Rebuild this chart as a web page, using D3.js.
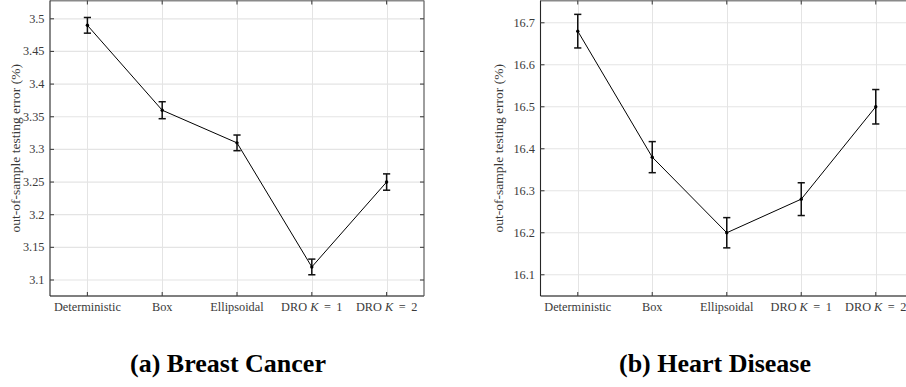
<!DOCTYPE html>
<html>
<head>
<meta charset="utf-8">
<script src="https://cdn.jsdelivr.net/npm/d3@7"></script>
<style>
  html, body { margin: 0; padding: 0; background: #fff; }
  svg { display: block; }
</style>
</head>
<body>
<svg id="chart" width="906" height="387"></svg>
<script>
// Methods compared on both datasets
const methods = ["Deterministic", "Box", "Ellipsoidal", "DRO K = 1", "DRO K = 2"];

// Breast cancer: mean out-of-sample error (%) and half-width of error bar
const breastMean = [3.49, 3.36, 3.31, 3.12, 3.25];
const breastErr  = [0.012, 0.013, 0.012, 0.012, 0.0125];
const breastTicks = [3.1, 3.15, 3.2, 3.25, 3.3, 3.35, 3.4, 3.45, 3.5];

// Heart disease: mean out-of-sample error (%) and half-width of error bar
const heartMean = [16.68, 16.38, 16.20, 16.28, 16.50];
const heartErr  = [0.040, 0.037, 0.036, 0.039, 0.041];
const heartTicks = [16.1, 16.2, 16.3, 16.4, 16.5, 16.6, 16.7];

const captions = ["(a) Breast Cancer", "(b) Heart Disease"];
const yTitle = "out-of-sample testing error (%)";

const SERIF = "'Liberation Serif', 'Times New Roman', Times, serif";
const svg = d3.select("#chart");

function drawPanel(opt) {
  const { left, right, top, bottom, yDomain, ticks, mean, err, titleX, caption, captionX } = opt;
  const g = svg.append("g");

  const x = d3.scaleLinear().domain([0.5, 5.5]).range([left, right]);
  const y = d3.scaleLinear().domain(yDomain).range([bottom, top]);
  const idx = d3.range(methods.length);

  // grid
  g.append("g").selectAll("line").data(idx).join("line")
    .attr("x1", i => Math.round(x(i + 1)) + 0.5).attr("x2", i => Math.round(x(i + 1)) + 0.5)
    .attr("y1", top).attr("y2", bottom)
    .attr("stroke", "#e4e4e4").attr("stroke-width", 1);
  g.append("g").selectAll("line").data(ticks).join("line")
    .attr("x1", left).attr("x2", right)
    .attr("y1", d => y(d)).attr("y2", d => y(d))
    .attr("stroke", "#e4e4e4").attr("stroke-width", 1.2);

  // axes box: dark left axis, grey bottom/top/right edges
  g.append("line").attr("x1", left).attr("x2", right).attr("y1", top).attr("y2", top)
    .attr("stroke", "#8a8a8a").attr("stroke-width", 1.8);
  g.append("line").attr("x1", right).attr("x2", right).attr("y1", top).attr("y2", bottom)
    .attr("stroke", "#6a6a6a").attr("stroke-width", 1.3);
  g.append("line").attr("x1", left).attr("x2", right).attr("y1", bottom).attr("y2", bottom)
    .attr("stroke", "#555").attr("stroke-width", 1.6);
  g.append("line").attr("x1", left).attr("x2", left).attr("y1", top).attr("y2", bottom)
    .attr("stroke", "#262626").attr("stroke-width", 1.1);

  // inward ticks on all four sides
  const tl = 4;
  const tk = g.append("g").attr("stroke", "#444").attr("stroke-width", 1.1);
  idx.forEach(i => {
    tk.append("line").attr("x1", x(i + 1)).attr("x2", x(i + 1)).attr("y1", bottom).attr("y2", bottom - tl);
    tk.append("line").attr("x1", x(i + 1)).attr("x2", x(i + 1)).attr("y1", top).attr("y2", top + tl);
  });
  ticks.forEach(d => {
    tk.append("line").attr("x1", left).attr("x2", left + tl).attr("y1", y(d)).attr("y2", y(d));
    tk.append("line").attr("x1", right).attr("x2", right - tl).attr("y1", y(d)).attr("y2", y(d));
  });

  // y tick labels
  g.append("g").selectAll("text").data(ticks).join("text")
    .attr("font-family", SERIF).attr("font-size", 12.3).attr("fill", "#3a3a3a")
    .attr("x", left - 5.5).attr("y", d => y(d))
    .attr("text-anchor", "end").attr("dominant-baseline", "central")
    .text(d => d3.format("~g")(d));

  // x tick labels, with italic K
  idx.forEach(i => {
    const t = g.append("text")
      .attr("font-family", SERIF).attr("font-size", 12.3).attr("fill", "#3a3a3a")
      .attr("x", x(i + 1)).attr("y", bottom + 14.5)
      .attr("text-anchor", "middle");
    const parts = methods[i].split("K");
    if (parts.length === 1) {
      t.text(methods[i]);
    } else {
      t.append("tspan").text(parts[0]);
      t.append("tspan").attr("font-style", "italic").text("K");
      t.append("tspan").text(parts[1].replace("=", "\u2009=\u2009"));
    }
  });

  // y title
  g.append("text")
    .attr("font-family", SERIF).attr("font-size", 13.5).attr("fill", "#3a3a3a")
    .attr("transform", `translate(${titleX},${(top + bottom) / 2}) rotate(-90)`)
    .attr("text-anchor", "middle").attr("dominant-baseline", "central")
    .text(yTitle);

  // connecting line
  const line = d3.line().x((d, i) => x(i + 1)).y(d => y(d));
  g.append("path").datum(mean)
    .attr("d", line).attr("fill", "none")
    .attr("stroke", "#000").attr("stroke-width", 1);

  // error bars
  const cap = 3.6;
  const eb = g.append("g").attr("stroke", "#111").attr("stroke-width", 1.5);
  idx.forEach(i => {
    const cx = x(i + 1), y0 = y(mean[i] - err[i]), y1 = y(mean[i] + err[i]);
    eb.append("line").attr("x1", cx).attr("x2", cx).attr("y1", y0).attr("y2", y1);
    eb.append("line").attr("x1", cx - cap).attr("x2", cx + cap).attr("y1", y0).attr("y2", y0);
    eb.append("line").attr("x1", cx - cap).attr("x2", cx + cap).attr("y1", y1).attr("y2", y1);
  });

  // markers
  g.append("g").selectAll("circle").data(mean).join("circle")
    .attr("cx", (d, i) => x(i + 1)).attr("cy", d => y(d))
    .attr("r", 1.7).attr("fill", "#000");

  // caption
  svg.append("text")
    .attr("font-family", SERIF).attr("font-size", 26).attr("font-weight", "bold").attr("fill", "#000")
    .attr("x", captionX).attr("y", 372)
    .attr("text-anchor", "middle")
    .text(caption);
}

drawPanel({
  left: 50, right: 424, top: 0.5, bottom: 296,
  yDomain: [3.0755, 3.528], ticks: breastTicks,
  mean: breastMean, err: breastErr,
  titleX: 15, caption: captions[0], captionX: 228
});

drawPanel({
  left: 540.5, right: 913, top: 0.5, bottom: 296,
  yDomain: [16.0494, 16.753], ticks: heartTicks,
  mean: heartMean, err: heartErr,
  titleX: 498.5, caption: captions[1], captionX: 715
});
</script>
</body>
</html>
